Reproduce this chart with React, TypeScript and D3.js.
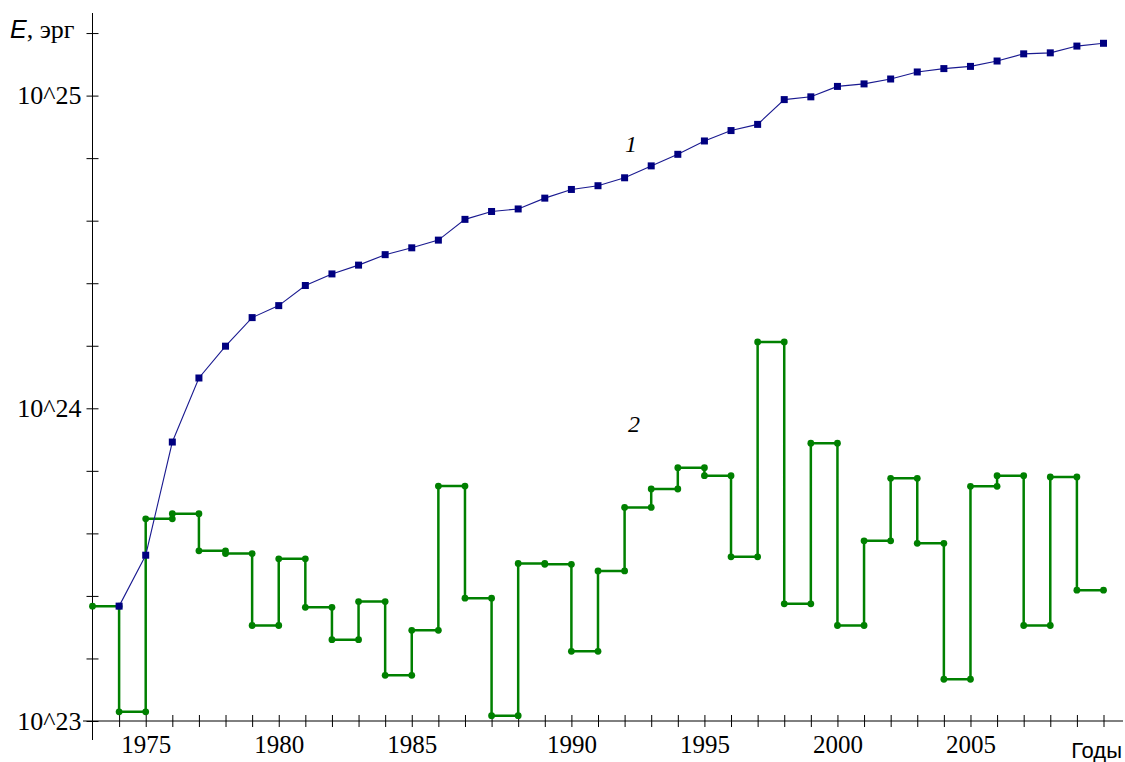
import React, { useEffect, useRef } from 'react';
import * as d3 from 'd3';

// подписи по оси X: позиция (номер шага) и текст
const yearTickPos = [2, 7, 12, 18, 23, 28, 33];
const yearTickLabels = ['1975', '1980', '1985', '1990', '1995', '2000', '2005'];

// деления по оси Y (показатель степени)
const yTickExp = [23, 23.2, 23.4, 23.6, 23.8, 24, 24.2, 24.4, 24.6, 24.8, 25, 25.2];
const yLabelExp = [23, 24, 25];
const yLabels = ['10^23', '10^24', '10^25'];

// кривая 1: накопленная энергия, эрг (начиная с шага 1)
const cumulative = [
  2.33e23, 3.39e23, 7.8e23, 1.25e24, 1.58e24, 1.95e24, 2.13e24, 2.47e24, 2.69e24, 2.87e24,
  3.1e24, 3.26e24, 3.45e24, 4.02e24, 4.26e24, 4.34e24, 4.7e24, 5.01e24, 5.15e24, 5.46e24,
  5.96e24, 6.49e24, 7.16e24, 7.73e24, 8.09e24, 9.71e24, 9.91e24, 1.07e25, 1.09e25, 1.13e25,
  1.19e25, 1.22e25, 1.24e25, 1.29e25, 1.36e25, 1.37e25, 1.44e25, 1.47e25,
];

// кривая 2: энергия за год, эрг (ступеньки, шаги 0..37)
const annual = [
  2.33e23, 1.07e23, 4.43e23, 4.6e23, 3.5e23, 3.43e23, 2.02e23, 3.3e23, 2.31e23, 1.82e23,
  2.41e23, 1.4e23, 1.95e23, 5.64e23, 2.47e23, 1.04e23, 3.19e23, 3.17e23, 1.67e23, 3.02e23,
  4.82e23, 5.52e23, 6.46e23, 6.09e23, 3.35e23, 1.63e24, 2.37e23, 7.73e23, 2.02e23, 3.77e23,
  5.97e23, 3.7e23, 1.36e23, 5.63e23, 6.09e23, 2.02e23, 6.03e23, 2.62e23,
];

export default function App() {
  const ref = useRef<SVGSVGElement>(null);

  useEffect(() => {
    const width = 1125;
    const height = 762;
    const serif = "'Liberation Serif', 'Times New Roman', Times, Tinos, 'Noto Serif', 'DejaVu Serif', FreeSerif, serif";
    const sans = "'Liberation Sans', Arial, 'DejaVu Sans', sans-serif";

    const svg = d3.select(ref.current).attr('width', width).attr('height', height);
    svg.selectAll('*').remove();

    const x = d3.scaleLinear().domain([0, 38]).range([92.5, 1103.5]);
    const y = d3.scaleLog().domain([1e23, 1e25]).range([721, 95.6]);
    const y0 = y(1e23);

    // ось X
    const xAxis = d3.axisBottom(x)
      .tickValues(d3.range(1, 39))
      .tickSizeInner(6)
      .tickSizeOuter(0)
      .tickPadding(8)
      .tickFormat(d => {
        const i = yearTickPos.indexOf(+d);
        return i >= 0 ? yearTickLabels[i] : '';
      });

    const gx = svg.append('g')
      .attr('transform', `translate(0,${y0})`)
      .call(xAxis)
      .attr('font-family', null)
      .attr('font-size', null);
    gx.select('.domain').remove();
    gx.selectAll('.tick line').attr('y1', -6).attr('stroke', '#000');
    gx.selectAll('text')
      .style('font-family', serif)
      .style('font-size', '25px')
      .attr('fill', '#000');

    svg.append('line')
      .attr('x1', 83).attr('x2', 1123)
      .attr('y1', y0).attr('y2', y0)
      .attr('stroke', '#000');

    // ось Y
    const yAxis = d3.axisLeft(y)
      .tickValues(yTickExp.map(e => Math.pow(10, e)))
      .tickSizeInner(6)
      .tickSizeOuter(0)
      .tickPadding(5)
      .tickFormat((d, k) => {
        const i = yLabelExp.indexOf(yTickExp[k]);
        return i >= 0 ? yLabels[i] : '';
      });

    const gy = svg.append('g')
      .attr('transform', `translate(${x(0)},0)`)
      .call(yAxis)
      .attr('font-family', null)
      .attr('font-size', null);
    gy.select('.domain').remove();
    gy.selectAll('.tick line').attr('x1', 6).attr('stroke', '#000');
    gy.selectAll('text')
      .style('font-family', serif)
      .style('font-size', '26px')
      .attr('fill', '#000');

    svg.append('line')
      .attr('x1', x(0)).attr('x2', x(0))
      .attr('y1', 13).attr('y2', 740)
      .attr('stroke', '#000');

    // кривая 2 — ступеньки
    const stepPts: [number, number][] = annual.map((v, i) => [i, v] as [number, number]);
    stepPts.push([annual.length, annual[annual.length - 1]]);

    const stepLine = d3.line<[number, number]>()
      .x(d => x(d[0]))
      .y(d => y(d[1]))
      .curve(d3.curveStepAfter);

    svg.append('path')
      .datum(stepPts)
      .attr('d', stepLine)
      .attr('fill', 'none')
      .attr('stroke', '#008000')
      .attr('stroke-width', 2.5);

    const dots: [number, number][] = [];
    annual.forEach((v, i) => {
      dots.push([i, v]);
      dots.push([i + 1, v]);
    });
    svg.append('g')
      .selectAll('circle')
      .data(dots)
      .join('circle')
      .attr('cx', d => x(d[0]))
      .attr('cy', d => y(d[1]))
      .attr('r', 3.4)
      .attr('fill', '#008000');

    // кривая 1 — накопленная
    const cumPts: [number, number][] = cumulative.map((v, i) => [i + 1, v] as [number, number]);
    const cumLine = d3.line<[number, number]>()
      .x(d => x(d[0]))
      .y(d => y(d[1]));

    svg.append('path')
      .datum(cumPts)
      .attr('d', cumLine)
      .attr('fill', 'none')
      .attr('stroke', '#1a1a90')
      .attr('stroke-width', 1.1);

    svg.append('g')
      .selectAll('rect')
      .data(cumPts)
      .join('rect')
      .attr('x', d => x(d[0]) - 3.5)
      .attr('y', d => y(d[1]) - 3.5)
      .attr('width', 7)
      .attr('height', 7)
      .attr('fill', '#000080');

    // подписи
    const title = svg.append('text')
      .attr('x', 10)
      .attr('y', 38)
      .attr('fill', '#000');
    title.append('tspan')
      .style('font-family', sans)
      .style('font-style', 'italic')
      .style('font-size', '25px')
      .text('E');
    title.append('tspan')
      .style('font-family', serif)
      .style('font-size', '26px')
      .text(', эрг');

    svg.append('text')
      .attr('x', 1122)
      .attr('y', 758)
      .attr('text-anchor', 'end')
      .style('font-family', sans)
      .style('font-size', '22px')
      .attr('fill', '#000')
      .text('Годы');

    svg.append('text')
      .attr('x', 631)
      .attr('y', 152)
      .attr('text-anchor', 'middle')
      .style('font-family', serif)
      .style('font-style', 'italic')
      .style('font-size', '24px')
      .text('1');

    svg.append('text')
      .attr('x', 634)
      .attr('y', 432)
      .attr('text-anchor', 'middle')
      .style('font-family', serif)
      .style('font-style', 'italic')
      .style('font-size', '24px')
      .text('2');
  }, []);

  return (
    <div>
      <svg ref={ref} style={{ position: 'absolute', left: 0, top: 0, background: '#fff' }} />
    </div>
  );
}
